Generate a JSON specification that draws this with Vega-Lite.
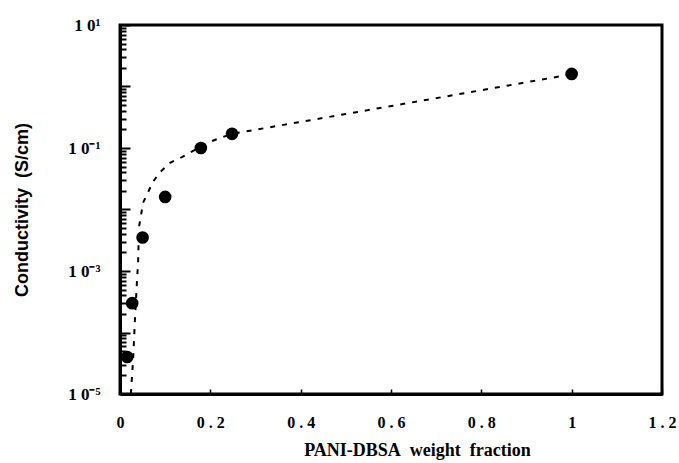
{
  "$schema": "https://vega.github.io/schema/vega-lite/v6.json",
  "width": 542,
  "height": 369,
  "autosize": "none",
  "padding": {"left": 120, "top": 25, "right": 17, "bottom": 69},
  "config": {
    "view": {"stroke": "black", "strokeWidth": 3},
    "axis": {"domainColor": "black", "domainWidth": 3, "tickColor": "black", "labelColor": "black", "titleColor": "black", "grid": false}
  },
  "datasets": {
    "points": [
      {"fraction": 0.016, "conductivity": 0.00004},
      {"fraction": 0.027, "conductivity": 0.0003},
      {"fraction": 0.05, "conductivity": 0.0035},
      {"fraction": 0.1, "conductivity": 0.016},
      {"fraction": 0.179, "conductivity": 0.1},
      {"fraction": 0.248, "conductivity": 0.17},
      {"fraction": 1.0, "conductivity": 1.6}
    ],
    "fit": [
      {"fraction": 0.024, "conductivity": 0.00001},
      {"fraction": 0.029, "conductivity": 0.0000355},
      {"fraction": 0.033, "conductivity": 0.000158},
      {"fraction": 0.038, "conductivity": 0.00078},
      {"fraction": 0.040, "conductivity": 0.00135},
      {"fraction": 0.042, "conductivity": 0.0052},
      {"fraction": 0.046, "conductivity": 0.0076},
      {"fraction": 0.051, "conductivity": 0.0129},
      {"fraction": 0.062, "conductivity": 0.019},
      {"fraction": 0.073, "conductivity": 0.0282},
      {"fraction": 0.089, "conductivity": 0.0407},
      {"fraction": 0.111, "conductivity": 0.0575},
      {"fraction": 0.137, "conductivity": 0.0708},
      {"fraction": 0.166, "conductivity": 0.0933},
      {"fraction": 0.199, "conductivity": 0.126},
      {"fraction": 0.221, "conductivity": 0.145},
      {"fraction": 0.248, "conductivity": 0.17},
      {"fraction": 0.5, "conductivity": 0.357},
      {"fraction": 0.75, "conductivity": 0.75},
      {"fraction": 1.0, "conductivity": 1.58}
    ]
  },
  "encoding": {
    "x": {
      "field": "fraction", "type": "quantitative",
      "scale": {"domain": [0, 1.2], "nice": false, "zero": false},
      "axis": {
        "title": "PANI-DBSA\u00a0\u00a0weight\u00a0\u00a0fraction",
        "values": [0, 0.2, 0.4, 0.6, 0.8, 1, 1.2],
        "labelExpr": "datum.value == 0 ? '0' : (datum.value == 1 ? '1' : replace(format(datum.value, '.1f'), '.', ' . '))",
        "tickSize": -5, "tickWidth": 1.5,
        "labelPadding": 25, "labelFlush": false, "labelOverlap": false,
        "labelFont": "Liberation Serif", "labelFontSize": 16, "labelFontWeight": "bold",
        "titleFont": "Liberation Serif", "titleFontSize": 18, "titleFontWeight": "bold",
        "titlePadding": 11, "titleX": 297
      }
    },
    "y": {
      "field": "conductivity", "type": "quantitative",
      "scale": {"type": "log", "domain": [0.00001, 10], "nice": false},
      "axis": {
        "title": "Conductivity\u00a0\u00a0(S/cm)",
        "values": [0.00001, 0.00002, 0.00003, 0.00004, 0.00005, 0.00006, 0.00007, 0.00008, 0.00009,
                   0.0001, 0.0002, 0.0003, 0.0004, 0.0005, 0.0006, 0.0007, 0.0008, 0.0009,
                   0.001, 0.002, 0.003, 0.004, 0.005, 0.006, 0.007, 0.008, 0.009,
                   0.01, 0.02, 0.03, 0.04, 0.05, 0.06, 0.07, 0.08, 0.09,
                   0.1, 0.2, 0.3, 0.4, 0.5, 0.6, 0.7, 0.8, 0.9,
                   1, 2, 3, 4, 5, 6, 7, 8, 9, 10],
        "labelExpr": "abs(log(datum.value)/LN10 - round(log(datum.value)/LN10)) > 0.01 ? '' : (round(log(datum.value)/LN10) == 1 ? '1 0¹' : (round(log(datum.value)/LN10) == -1 ? '1 0⁻¹' : (round(log(datum.value)/LN10) == -3 ? '1 0⁻³' : (round(log(datum.value)/LN10) == -5 ? '1 0⁻⁵' : ''))))",
        "tickSize": {"condition": {"test": "abs(log(datum.value)/LN10 - round(log(datum.value)/LN10)) < 0.01", "value": -10}, "value": -6},
        "tickWidth": 2,
        "labelPadding": 30, "labelFlush": false, "labelOverlap": false,
        "labelFont": "Liberation Serif", "labelFontSize": 17, "labelFontWeight": "bold",
        "titleFont": "Liberation Sans", "titleFontSize": 18, "titleFontWeight": "bold",
        "titlePadding": 36
      }
    }
  },
  "layer": [
    {
      "data": {"name": "fit"},
      "mark": {"type": "line", "color": "black", "strokeWidth": 2, "strokeDash": [5, 7], "clip": true}
    },
    {
      "data": {"name": "points"},
      "mark": {"type": "point", "filled": true, "color": "black", "opacity": 1, "size": 160, "shape": "circle"}
    }
  ]
}
